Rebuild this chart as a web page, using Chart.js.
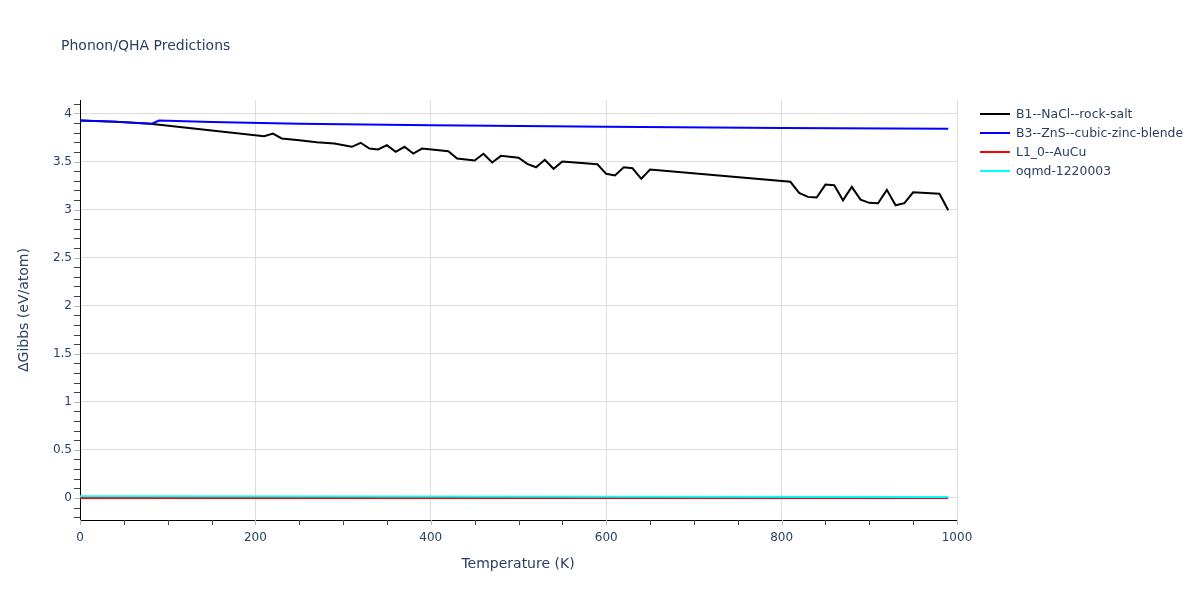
<!DOCTYPE html>
<html>
<head>
<meta charset="utf-8">
<script src="https://cdn.jsdelivr.net/npm/chart.js@4"></script>
<style>
  html, body { margin:0; padding:0; background:#fff; }
  #wrap { position:relative; width:1200px; height:600px; font-family:"DejaVu Sans", sans-serif; color:#2a3f5f; }
  canvas { position:absolute; left:0; top:0; }
  .title { position:absolute; left:61px; top:37px; font-size:14px; font-weight:normal; }
  .xt { position:absolute; left:368px; width:300px; text-align:center; top:555px; font-size:14px; font-weight:normal; }
  .yt { position:absolute; left:23px; top:310px; font-size:14px; font-weight:normal; transform:translate(-50%,-50%) rotate(-90deg); white-space:nowrap; }
  .legend { position:absolute; left:980px; top:104px; font-size:12.4px; }
  .li { height:19px; display:flex; align-items:center; }
  .sw { width:30px; height:2px; margin-right:6px; }
</style>
</head>
<body>
<div id="wrap">
  <canvas id="c" width="1200" height="600"></canvas>
  <div class="title">Phonon/QHA Predictions</div>
  <div class="xt">Temperature (K)</div>
  <div class="yt">ΔGibbs (eV/atom)</div>
  <div class="legend" id="legend"></div>
</div>
<script>
const seriesNames = ["B1--NaCl--rock-salt", "B3--ZnS--cubic-zinc-blende", "L1_0--AuCu", "oqmd-1220003"];
const seriesColors = ["#000000", "#0000ff", "#ff0000", "#00ffff"];

const b1T = [0, 40, 80, 210, 220, 230, 250, 270, 290, 310, 320, 330, 340, 350, 360, 370, 380, 390, 420, 430, 450, 460, 470, 480, 500, 510, 520, 530, 540, 550, 590, 600, 610, 620, 630, 640, 650, 810, 820, 830, 840, 850, 860, 870, 880, 890, 900, 910, 920, 930, 940, 950, 980, 990];
const b1G = [3.927, 3.914, 3.892, 3.764, 3.79, 3.74, 3.722, 3.701, 3.688, 3.653, 3.695, 3.635, 3.625, 3.670, 3.601, 3.653, 3.583, 3.635, 3.607, 3.531, 3.51, 3.58, 3.49, 3.559, 3.539, 3.476, 3.44, 3.518, 3.424, 3.5, 3.472, 3.372, 3.354, 3.44, 3.43, 3.32, 3.417, 3.289, 3.174, 3.132, 3.125, 3.26, 3.253, 3.097, 3.236, 3.104, 3.07, 3.066, 3.205, 3.045, 3.066, 3.18, 3.164, 2.993];

const b3T = [0, 40, 82, 90, 150, 250, 400, 536, 600, 800, 990];
const b3G = [3.928, 3.915, 3.893, 3.927, 3.912, 3.893, 3.877, 3.868, 3.861, 3.849, 3.842];

const l10T = [0, 990];
const l10G = [0, 0];

const oqT = [0, 990];
const oqG = [0.016, 0.010];

const xTicks = [0, 200, 400, 600, 800, 1000];
const yTicks = [0, 0.5, 1, 1.5, 2, 2.5, 3, 3.5, 4];

const toPts = (T, G) => T.map((t, i) => ({x: t, y: G[i]}));
const allT = [b1T, b3T, l10T, oqT];
const allG = [b1G, b3G, l10G, oqG];

// legend
const lg = document.getElementById('legend');
seriesNames.forEach((n, i) => {
  const d = document.createElement('div'); d.className = 'li';
  d.innerHTML = '<div class="sw" style="background:' + seriesColors[i] + '"></div><span>' + n + '</span>';
  lg.appendChild(d);
});

const minorTicks = {
  id: 'minorTicks',
  afterDraw(chart) {
    const ctx = chart.ctx, xs = chart.scales.x, ys = chart.scales.y;
    const ca = chart.chartArea;
    ctx.save();
    ctx.lineWidth = 1;
    for (let v = 0; v <= 1000; v += 50) {
      const px = Math.round(xs.getPixelForValue(v)) + 0.5;
      ctx.strokeStyle = (v % 200 === 0) ? '#bbbbbb' : '#444444';
      ctx.beginPath(); ctx.moveTo(px, ca.bottom); ctx.lineTo(px, ca.bottom + 5); ctx.stroke();
    }
    for (let k = -2; k <= 41; k++) {
      const v = k / 10;
      const py = Math.round(ys.getPixelForValue(v)) + 0.5;
      ctx.strokeStyle = (k % 5 === 0) ? '#bbbbbb' : '#444444';
      ctx.beginPath(); ctx.moveTo(ca.left - 6, py); ctx.lineTo(ca.left, py); ctx.stroke();
    }
    ctx.restore();
  }
};

new Chart(document.getElementById('c'), {
  type: 'line',
  data: {
    datasets: seriesNames.map((n, i) => ({
      label: n,
      data: toPts(allT[i], allG[i]),
      borderColor: seriesColors[i],
      backgroundColor: seriesColors[i],
      borderWidth: 2,
      pointRadius: 0,
      tension: 0,
      fill: false
    })).reverse()
  },
  options: {
    responsive: false,
    animation: false,
    devicePixelRatio: 1,
    layout: { padding: { left: 0, top: 100, right: 243, bottom: 0 } },
    plugins: { legend: { display: false }, title: { display: false }, tooltip: { enabled: false } },
    scales: {
      x: {
        type: 'linear', min: 0, max: 1000,
        afterFit(s) { s.height = 80; },
        afterBuildTicks(s) { s.ticks = xTicks.map(v => ({value: v})); },
        grid: { color: '#dddddd', drawTicks: false },
        border: { display: true, color: '#000000', width: 1 },
        ticks: { color: '#2a3f5f', font: { family: 'DejaVu Sans', size: 12 }, padding: 11, maxRotation: 0, callback: v => String(v) }
      },
      y: {
        type: 'linear', min: -0.23, max: 4.14,
        afterFit(s) { s.width = 80; },
        afterBuildTicks(s) { s.ticks = yTicks.map(v => ({value: v})); },
        grid: { color: '#dddddd', drawTicks: false },
        border: { display: true, color: '#000000', width: 1 },
        ticks: { color: '#2a3f5f', font: { family: 'DejaVu Sans', size: 12 }, padding: 8, callback: v => String(v) }
      }
    }
  },
  plugins: [minorTicks]
});
</script>
</body>
</html>
